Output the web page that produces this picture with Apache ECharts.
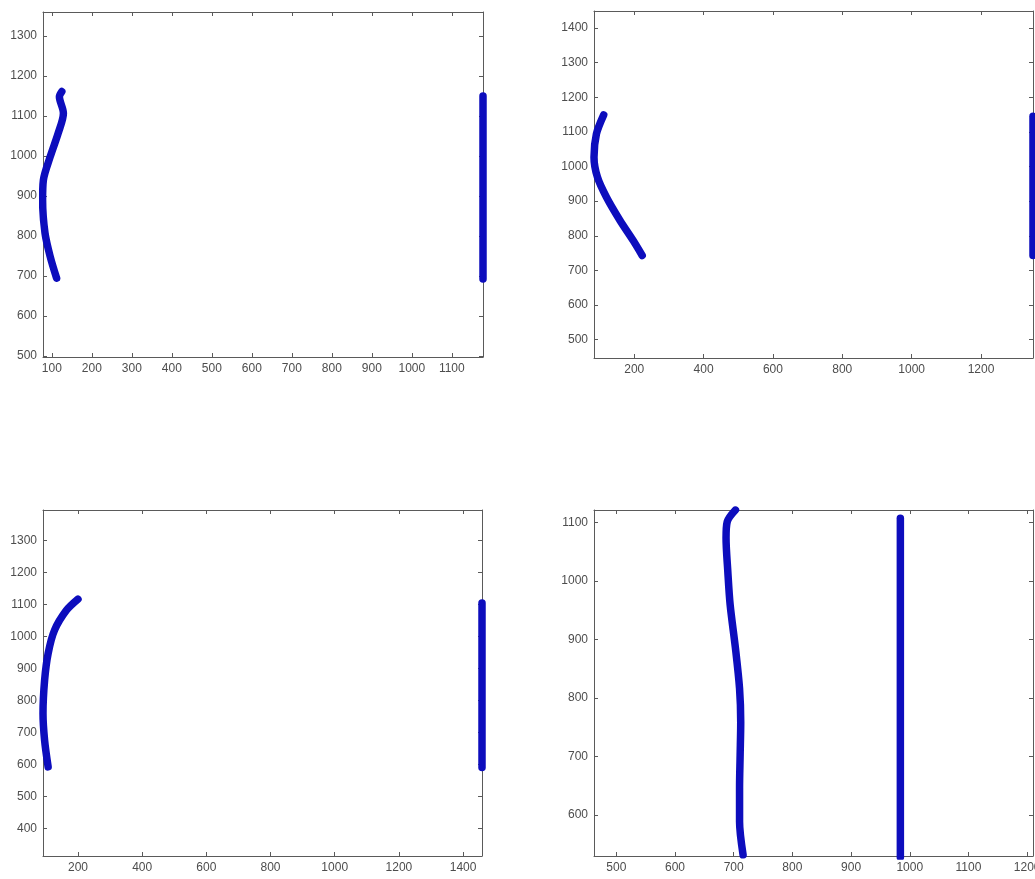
<!DOCTYPE html>
<html>
<head>
<meta charset="utf-8">
<script src="https://cdn.jsdelivr.net/npm/echarts@6/dist/echarts.min.js"></script>
<style>
  html, body { margin: 0; padding: 0; background: #fff; }
  #main { width: 1035px; height: 879px; }
</style>
</head>
<body>
<div id="main"></div>
<script>
// panel 1 (top left)
const curveA1 = [[125, 1161], [119, 1148], [129, 1107], [116, 1057], [96, 998], [79, 940], [77, 890], [83, 807], [96, 748], [112, 694]];
const lineB1 = [[1178, 692], [1178, 1150]];
// panel 2 (top right)
const curveA2 = [[112, 1149], [91, 1094], [84, 1027], [94, 969], [120, 911], [159, 844], [197, 786], [223, 743]];
const lineB2 = [[1350, 743], [1350, 1145]];
// panel 3 (bottom left)
const curveA3 = [[200, 1117], [164, 1082], [127, 1020], [107, 947], [96, 863], [91, 759], [96, 675], [107, 592]];
const lineB3 = [[1459, 590], [1459, 1105]];
// panel 4 (bottom right)
const curveA4 = [[703, 1121], [689, 1101], [687, 1073], [690, 1016], [694, 959], [703, 885], [710, 816], [712, 759], [711, 702], [710, 646], [710, 589], [716, 532]];
const lineB4 = [[984, 528], [984, 1107]];

// axis ranges and tick steps
const xRanges = [[78, 1178], [84, 1350], [91, 1459], [462, 1210]];
const yRanges = [[497, 1360], [447, 1449], [313, 1396], [530, 1121]];
const xSteps = [100, 200, 200, 100];
const ySteps = [100, 100, 100, 100];

const curves = [curveA1, curveA2, curveA3, curveA4];
const lines = [lineB1, lineB2, lineB3, lineB4];

const grids = [
  { left: 43, top: 12, width: 440, height: 345, outerBoundsMode: 'none' },
  { left: 594, top: 11, width: 439, height: 347, outerBoundsMode: 'none' },
  { left: 43, top: 510, width: 439, height: 346, outerBoundsMode: 'none' },
  { left: 594, top: 510, width: 439, height: 346, outerBoundsMode: 'none' }
];

const axisColor = '#5a5a5a';
const labelColor = '#4d4d4d';
const blue = '#0d0dbd';

function makeAxis(gridIndex, range, step, position, withLabels) {
  return {
    type: 'value',
    gridIndex: gridIndex,
    position: position,
    min: range[0],
    max: range[1],
    minInterval: step,
    maxInterval: step,
    scale: true,
    axisLine: { show: true, onZero: false, lineStyle: { color: axisColor, width: 1 } },
    axisTick: { show: true, inside: true, length: 4, lineStyle: { color: axisColor } },
    splitLine: { show: false },
    axisLabel: {
      show: withLabels,
      showMinLabel: false,
      showMaxLabel: false,
      hideOverlap: false,
      color: labelColor,
      fontFamily: 'Liberation Sans, Arial, sans-serif',
      fontSize: 12,
      margin: 6,
      formatter: (v) => String(v)
    }
  };
}

const xAxes = [];
const yAxes = [];
const series = [];
for (let i = 0; i < 4; i++) {
  xAxes.push(makeAxis(i, xRanges[i], xSteps[i], 'bottom', true));
  xAxes.push(makeAxis(i, xRanges[i], xSteps[i], 'top', false));
  yAxes.push(makeAxis(i, yRanges[i], ySteps[i], 'left', true));
  yAxes.push(makeAxis(i, yRanges[i], ySteps[i], 'right', false));
  // thick trajectory curve
  series.push({
    type: 'line',
    xAxisIndex: i * 2,
    yAxisIndex: i * 2,
    data: curves[i],
    smooth: 0.3,
    showSymbol: false,
    silent: true,
    lineStyle: { color: blue, width: 7.5, cap: 'round', join: 'round' }
  });
  // straight vertical line
  series.push({
    type: 'line',
    xAxisIndex: i * 2,
    yAxisIndex: i * 2,
    data: lines[i],
    showSymbol: false,
    silent: true,
    clip: i === 3,
    lineStyle: { color: blue, width: 7.5, cap: 'round' }
  });
}

const chart = echarts.init(document.getElementById('main'), null, { renderer: 'canvas' });
chart.setOption({
  animation: false,
  backgroundColor: '#ffffff',
  grid: grids,
  xAxis: xAxes,
  yAxis: yAxes,
  series: series
});
</script>
</body>
</html>
